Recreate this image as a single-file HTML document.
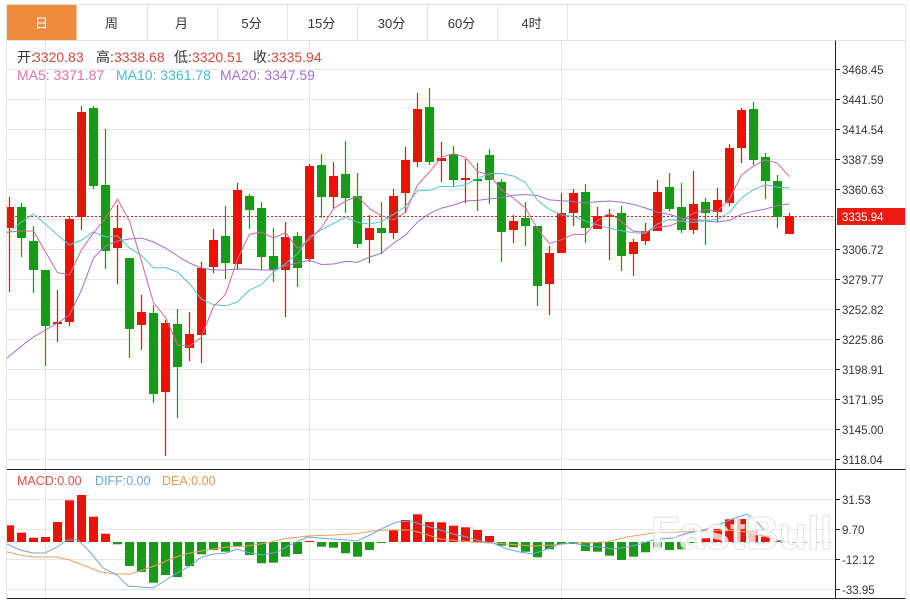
<!DOCTYPE html>
<html>
<head>
<meta charset="utf-8">
<style>
html,body{margin:0;padding:0;background:#fff;}
body{width:910px;height:600px;overflow:hidden;}
svg{display:block;font-family:"Liberation Sans","Noto Sans CJK SC",sans-serif;}
</style>
</head>
<body>
<svg width="910" height="600" viewBox="0 0 910 600" xmlns="http://www.w3.org/2000/svg">
<rect x="0" y="0" width="910" height="600" fill="#fff"/>

<!-- tab bar -->
<rect x="7" y="5" width="69.5" height="35" fill="#f08a3c"/>
<g stroke="#e2e2e2" stroke-width="1" fill="none">
  <path d="M7 4.5H905.5 M7 40.5H905.5"/>
  <path d="M147.5 5V40 M217.5 5V40 M287.5 5V40 M357.5 5V40 M427.5 5V40 M497.5 5V40 M567.5 5V40"/>
  <path d="M6.5 4.5V598 M905.5 4.5V598"/>
</g>
<g font-size="13" fill="#333" text-anchor="middle">
  <text x="41.5" y="28" fill="#fff">日</text>
  <text x="111.5" y="28">周</text>
  <text x="181.5" y="28">月</text>
  <text x="251.5" y="28">5分</text>
  <text x="321.5" y="28">15分</text>
  <text x="391.5" y="28">30分</text>
  <text x="461.5" y="28">60分</text>
  <text x="531.5" y="28">4时</text>
</g>

<!-- grid -->
<g stroke="#e6e6e6" stroke-width="1" fill="none">
  <path d="M7 69.5H835 M7 99.5H835 M7 129.5H835 M7 159.5H835 M7 189.5H835 M7 219.5H835 M7 249.5H835 M7 279.5H835 M7 309.5H835 M7 339.5H835 M7 369.5H835 M7 399.5H835 M7 429.5H835 M7 459.5H835"/>
  <path d="M7 499.5H835 M7 529.5H835 M7 559.5H835 M7 589.5H835"/>
  <path d="M45.5 41V598 M309.5 41V598 M561.5 41V598"/>
</g>

<!-- info text -->
<g font-size="14">
  <text x="17" y="62" fill="#333">开:</text><text x="33" y="62" fill="#d5483b">3320.83</text>
  <text x="96" y="62" fill="#333">高:</text><text x="114" y="62" fill="#d5483b">3338.68</text>
  <text x="174" y="62" fill="#333">低:</text><text x="192" y="62" fill="#d5483b">3320.51</text>
  <text x="253" y="62" fill="#333">收:</text><text x="271" y="62" fill="#d5483b">3335.94</text>
  <text x="17" y="80" fill="#dc70aa">MA5: 3371.87</text>
  <text x="116" y="80" fill="#4cb9cc">MA10: 3361.78</text>
  <text x="220" y="80" fill="#a870c8">MA20: 3347.59</text>
</g>

<!-- current price dotted line -->
<path d="M7 216.5H835" stroke="#e0201a" stroke-width="1" stroke-dasharray="2,2"/>

<!-- wicks -->
<path fill="none" stroke="#e8140c" stroke-width="1.2" d="M9.5 197V292 M57.5 290V342 M69.5 216V326 M81.5 106V230 M117.5 205V284 M141.5 295V350 M165.5 320V456 M189.5 312V361 M201.5 262V363 M213.5 229V273 M237.5 183V270 M285.5 222V317 M309.5 164V262 M333.5 162V208 M369.5 215V263 M393.5 189V239 M405.5 147V213 M417.5 93V167 M441.5 142V182 M465.5 159V203 M513.5 215V243 M549.5 246V315 M561.5 193V253 M573.5 189V226 M597.5 207V229 M609.5 209V260 M633.5 239V276 M645.5 223V245 M657.5 180V231 M693.5 171V234 M717.5 188V222 M729.5 144V206 M741.5 108V163 M789.5 213V234"/>
<path fill="none" stroke="#1a981a" stroke-width="1.2" d="M21.5 203V257 M33.5 226V293 M45.5 270V366 M93.5 106V189 M105.5 129V269 M129.5 258V358 M153.5 305V403 M177.5 309V418 M225.5 206V279 M249.5 194V229 M261.5 202V270 M273.5 228V282 M297.5 232V287 M321.5 154V218 M345.5 141V213 M357.5 173V248 M381.5 202V254 M429.5 88V165 M453.5 146V186 M477.5 163V211 M489.5 149V204 M501.5 179V262 M525.5 202V246 M537.5 226V306 M585.5 184V243 M621.5 206V271 M669.5 173V211 M681.5 183V233 M705.5 198V245 M753.5 102V165 M765.5 153V199 M777.5 175V228"/>

<!-- red bodies -->
<g fill="#e8140c">
<rect x="7" y="207" width="7" height="21"/>
<rect x="53" y="322" width="9" height="2"/>
<rect x="65" y="219" width="9" height="103"/>
<rect x="77" y="112" width="9" height="105"/>
<rect x="113" y="228" width="9" height="20"/>
<rect x="137" y="312" width="9" height="13"/>
<rect x="161" y="323" width="9" height="69"/>
<rect x="185" y="334" width="9" height="14"/>
<rect x="197" y="268" width="9" height="67"/>
<rect x="209" y="240" width="9" height="27"/>
<rect x="233" y="190" width="9" height="74"/>
<rect x="281" y="237" width="9" height="33"/>
<rect x="305" y="166" width="9" height="93"/>
<rect x="329" y="176" width="9" height="21"/>
<rect x="365" y="228" width="9" height="12"/>
<rect x="389" y="196" width="9" height="37"/>
<rect x="401" y="160" width="9" height="33"/>
<rect x="413" y="109" width="9" height="53"/>
<rect x="437" y="158" width="9" height="3"/>
<rect x="461" y="178" width="9" height="2"/>
<rect x="509" y="221" width="9" height="9"/>
<rect x="545" y="253" width="9" height="31"/>
<rect x="557" y="213" width="9" height="40"/>
<rect x="569" y="193" width="9" height="20"/>
<rect x="593" y="216" width="9" height="13"/>
<rect x="605" y="215" width="9" height="2"/>
<rect x="629" y="242" width="9" height="12"/>
<rect x="641" y="231" width="9" height="10"/>
<rect x="653" y="192" width="9" height="39"/>
<rect x="689" y="204" width="9" height="26"/>
<rect x="713" y="200" width="9" height="12"/>
<rect x="725" y="148" width="9" height="55"/>
<rect x="737" y="110" width="9" height="38"/>
<rect x="785" y="216" width="9" height="18"/>
</g>
<!-- green bodies -->
<g fill="#1a981a">
<rect x="17" y="207" width="9" height="31"/>
<rect x="29" y="241" width="9" height="29"/>
<rect x="41" y="270" width="9" height="56"/>
<rect x="89" y="108" width="9" height="78"/>
<rect x="101" y="185" width="9" height="66"/>
<rect x="125" y="258" width="9" height="71"/>
<rect x="149" y="313" width="9" height="81"/>
<rect x="173" y="324" width="9" height="43"/>
<rect x="221" y="236" width="9" height="27"/>
<rect x="245" y="196" width="9" height="14"/>
<rect x="257" y="208" width="9" height="49"/>
<rect x="269" y="256" width="9" height="14"/>
<rect x="293" y="236" width="9" height="32"/>
<rect x="317" y="165" width="9" height="32"/>
<rect x="341" y="174" width="9" height="24"/>
<rect x="353" y="196" width="9" height="48"/>
<rect x="377" y="228" width="9" height="5"/>
<rect x="425" y="107" width="9" height="55"/>
<rect x="449" y="154" width="9" height="26"/>
<rect x="473" y="179" width="9" height="2"/>
<rect x="485" y="155" width="9" height="25"/>
<rect x="497" y="182" width="9" height="50"/>
<rect x="521" y="218" width="9" height="8"/>
<rect x="533" y="226" width="9" height="60"/>
<rect x="581" y="192" width="9" height="36"/>
<rect x="617" y="213" width="9" height="43"/>
<rect x="665" y="187" width="9" height="22"/>
<rect x="677" y="207" width="9" height="23"/>
<rect x="701" y="202" width="9" height="11"/>
<rect x="749" y="109" width="9" height="51"/>
<rect x="761" y="157" width="9" height="24"/>
<rect x="773" y="181" width="9" height="36"/>
</g>

<!-- MA lines -->
<polyline fill="none" stroke="#a66ec9" stroke-width="1" points="7,358 9.5,356 21.5,346 33.5,337 45.5,330 57.5,323 69.5,315 81.5,290 93.5,258 105.5,246 117.5,241 129.5,239 141.5,238 153.5,242 165.5,248 177.5,256 189.5,263 201.5,268 213.5,270 225.5,270 237.5,269 249.5,269.1 261.5,270 273.5,270 285.5,265.6 297.5,262.9 309.5,260.3 321.5,264.5 333.5,264 345.5,261.4 357.5,262.2 369.5,257.1 381.5,253.2 393.5,243.3 405.5,235.1 417.5,222.2 429.5,213.6 441.5,208.1 453.5,205.1 465.5,200.9 477.5,200.4 489.5,198.9 501.5,197.6 513.5,195.2 525.5,194.6 537.5,195.5 549.5,199.9 561.5,200.7 573.5,201.5 585.5,203 597.5,201.6 609.5,201 621.5,202.1 633.5,204.4 645.5,208 657.5,212.1 669.5,214.5 681.5,218.1 693.5,219.3 705.5,221 717.5,222 729.5,220.4 741.5,214.3 753.5,211.3 765.5,209 777.5,205.6 789.5,203.7"/>
<polyline fill="none" stroke="#5cc0d2" stroke-width="1" points="7,233 9.5,232 21.5,222 33.5,214 45.5,224 57.5,235 69.5,245 81.5,240 93.5,232 105.5,237 117.5,235.9 129.5,248.1 141.5,255.5 153.5,267.9 165.5,267.6 177.5,272.1 189.5,283.6 201.5,299.2 213.5,304.6 225.5,305.8 237.5,302 249.5,290.1 261.5,284.6 273.5,272.2 285.5,263.6 297.5,253.7 309.5,236.9 321.5,229.8 333.5,223.4 345.5,216.9 357.5,222.3 369.5,224.1 381.5,221.7 393.5,214.3 405.5,206.6 417.5,190.7 429.5,190.3 441.5,186.4 453.5,186.8 465.5,184.8 477.5,178.4 489.5,173.6 501.5,173.5 513.5,176 525.5,182.6 537.5,200.3 549.5,209.4 561.5,214.9 573.5,216.2 585.5,221.2 597.5,224.8 609.5,228.3 621.5,230.7 633.5,232.8 645.5,233.3 657.5,223.9 669.5,219.5 681.5,221.2 693.5,222.3 705.5,220.8 717.5,219.2 729.5,212.5 741.5,197.9 753.5,189.7 765.5,184.7 777.5,187.2 789.5,187.9"/>
<polyline fill="none" stroke="#d9649f" stroke-width="1" points="7,232 9.5,232 21.5,231 33.5,231 45.5,252 57.5,272.6 69.5,275 81.5,249.8 93.5,233 105.5,218 117.5,199.2 129.5,221.2 141.5,261.2 153.5,302.8 165.5,317.2 177.5,345 189.5,346 201.5,337.2 213.5,306.4 225.5,294.4 237.5,259 249.5,234.2 261.5,232 273.5,238 285.5,232.8 297.5,248.4 309.5,239.6 321.5,227.6 333.5,208.8 345.5,201 357.5,196.2 369.5,208.6 381.5,215.8 393.5,219.8 405.5,212.2 417.5,185.2 429.5,172 441.5,157 453.5,153.8 465.5,157.4 477.5,171.6 489.5,175.2 501.5,190 513.5,198.2 525.5,207.8 537.5,229 549.5,243.6 561.5,239.8 573.5,234.2 585.5,234.6 597.5,220.6 609.5,213 621.5,221.6 633.5,231.4 645.5,232 657.5,227.2 669.5,226 681.5,220.8 693.5,213.2 705.5,209.6 717.5,211.2 729.5,199 741.5,175 753.5,166.2 765.5,159.8 777.5,163.2 789.5,176.8"/>

<!-- axes -->
<g stroke="#222" stroke-width="1" fill="none">
  <path d="M835.5 40.5V598.5"/>
  <path d="M7 469.5H905.5 M7 598.5H905.5"/>
  <path d="M836 69.5H840 M836 99.5H840 M836 129.5H840 M836 159.5H840 M836 189.5H840 M836 249.5H840 M836 279.5H840 M836 309.5H840 M836 339.5H840 M836 369.5H840 M836 399.5H840 M836 429.5H840 M836 459.5H840"/>
  <path d="M836 499.5H840 M836 529.5H840 M836 559.5H840 M836 589.5H840"/>
</g>
<g font-size="11.5" fill="#333">
  <text x="842" y="73.8">3468.45</text>
  <text x="842" y="103.8">3441.50</text>
  <text x="842" y="133.8">3414.54</text>
  <text x="842" y="163.8">3387.59</text>
  <text x="842" y="193.8">3360.63</text>
  <text x="842" y="253.8">3306.72</text>
  <text x="842" y="283.8">3279.77</text>
  <text x="842" y="313.8">3252.82</text>
  <text x="842" y="343.8">3225.86</text>
  <text x="842" y="373.8">3198.91</text>
  <text x="842" y="403.8">3171.95</text>
  <text x="842" y="433.8">3145.00</text>
  <text x="842" y="463.8">3118.04</text>
  <text x="842" y="503.8">31.53</text>
  <text x="842" y="533.8">9.70</text>
  <text x="842" y="563.8">-12.12</text>
  <text x="842" y="593.8">-33.95</text>
</g>
<rect x="837" y="208" width="68" height="17" fill="#ec1a10"/>
<text x="842" y="221" font-size="11.5" fill="#fff">3335.94</text>

<!-- MACD legend -->
<g font-size="12.5">
  <text x="17" y="485" fill="#d9534a">MACD:0.00</text>
  <text x="95" y="485" fill="#6aa6dc">DIFF:0.00</text>
  <text x="162" y="485" fill="#e39a55">DEA:0.00</text>
</g>

<!-- MACD bars -->
<path d="M690 542.5H832" stroke="#a9c2da" stroke-width="1" stroke-dasharray="3,3"/>
<g fill="#e8140c">
<rect x="7" y="525.3" width="7" height="16.7"/>
<rect x="17" y="532.7" width="9" height="9.3"/>
<rect x="29" y="537.7" width="9" height="4.3"/>
<rect x="41" y="537" width="9" height="5"/>
<rect x="53" y="522" width="9" height="20"/>
<rect x="65" y="500.3" width="9" height="41.7"/>
<rect x="77" y="495" width="9" height="47"/>
<rect x="89" y="516.7" width="9" height="25.3"/>
<rect x="101" y="533.7" width="9" height="8.3"/>
<rect x="305" y="541" width="9" height="1"/>
<rect x="389" y="529.7" width="9" height="12.3"/>
<rect x="401" y="520" width="9" height="22"/>
<rect x="413" y="514.3" width="9" height="27.7"/>
<rect x="425" y="522" width="9" height="20"/>
<rect x="437" y="522.3" width="9" height="19.7"/>
<rect x="449" y="525.7" width="9" height="16.3"/>
<rect x="461" y="527.3" width="9" height="14.7"/>
<rect x="473" y="530" width="9" height="12"/>
<rect x="485" y="536" width="9" height="6"/>
<rect x="701" y="538.3" width="9" height="3.7"/>
<rect x="713" y="529" width="9" height="13"/>
<rect x="725" y="519.3" width="9" height="22.7"/>
<rect x="737" y="519" width="9" height="23"/>
<rect x="749" y="530.7" width="9" height="11.3"/>
<rect x="761" y="536.7" width="9" height="5.3"/>
<rect x="773" y="541" width="9" height="1"/>
</g>
<g fill="#1a981a">
<rect x="113" y="542" width="9" height="2.3"/>
<rect x="125" y="542" width="9" height="24"/>
<rect x="137" y="542" width="9" height="30"/>
<rect x="149" y="542" width="9" height="40.7"/>
<rect x="161" y="542" width="9" height="33"/>
<rect x="173" y="542" width="9" height="35"/>
<rect x="185" y="542" width="9" height="24"/>
<rect x="197" y="542" width="9" height="12.3"/>
<rect x="209" y="542" width="9" height="8"/>
<rect x="221" y="542" width="9" height="9.7"/>
<rect x="233" y="542" width="9" height="4"/>
<rect x="245" y="542" width="9" height="13"/>
<rect x="257" y="542" width="9" height="21.3"/>
<rect x="269" y="542" width="9" height="20.7"/>
<rect x="281" y="542" width="9" height="14.7"/>
<rect x="293" y="542" width="9" height="12"/>
<rect x="317" y="542" width="9" height="4.7"/>
<rect x="329" y="542" width="9" height="5.7"/>
<rect x="341" y="542" width="9" height="11.3"/>
<rect x="353" y="542" width="9" height="14.7"/>
<rect x="365" y="542" width="9" height="8"/>
<rect x="377" y="542" width="9" height="1"/>
<rect x="497" y="542" width="9" height="3.7"/>
<rect x="509" y="542" width="9" height="5.3"/>
<rect x="521" y="542" width="9" height="9.7"/>
<rect x="533" y="542" width="9" height="15.3"/>
<rect x="545" y="542" width="9" height="7.3"/>
<rect x="557" y="542" width="9" height="2"/>
<rect x="569" y="542" width="9" height="2"/>
<rect x="581" y="542" width="9" height="9"/>
<rect x="593" y="542" width="9" height="9.7"/>
<rect x="605" y="542" width="9" height="13.7"/>
<rect x="617" y="542" width="9" height="18"/>
<rect x="629" y="542" width="9" height="14.7"/>
<rect x="641" y="542" width="9" height="10.3"/>
<rect x="653" y="542" width="9" height="5.3"/>
<rect x="665" y="542" width="9" height="8"/>
<rect x="677" y="542" width="9" height="7.3"/>
<rect x="689" y="542" width="9" height="1"/>
</g>

<!-- DIFF / DEA -->
<polyline fill="none" stroke="#e8a05c" stroke-width="1" points="7,552 20,555 33,557 57,557 70,560 83,565 100,572 117,574 130,574 143,570 157,565 173,558 190,553 207,550 227,547 247,546 267,543 283,539 307,536 333,535 353,534 373,531 390,530 410,530 425,534 440,539 473,542 507,544 533,546 553,545 573,543 607,542 627,537 653,533 680,532 700,531 727,530 747,532 767,537 783,542 789,542"/>
<polyline fill="none" stroke="#6fa6d8" stroke-width="1" points="7,544 20,550 33,553 45,553 57,547 67,540 78,540 90,552 103,568 117,575 128,586 140,587 153,588 163,582 177,573 190,566 200,558 213,554 227,553 237,549 250,553 263,555 277,552 290,545 307,537 320,538 333,539 347,540 357,541 370,535 383,528 397,522 410,521 423,525 437,529 453,534 467,537 480,541 493,543 507,549 520,552 533,554 547,549 560,544 573,543 587,546 600,547 613,549 627,547 640,544 653,540 673,538 687,533 700,531 713,527 723,523 735,518 747,514 757,522 767,533 777,540 789,542"/>

<!-- watermark -->
<text x="651" y="549" font-size="46" font-weight="bold" fill="#fff" fill-opacity="0.75" stroke="#cfcfcf" stroke-opacity="0.6" stroke-width="1">FastBull</text>
</svg>
</body>
</html>
